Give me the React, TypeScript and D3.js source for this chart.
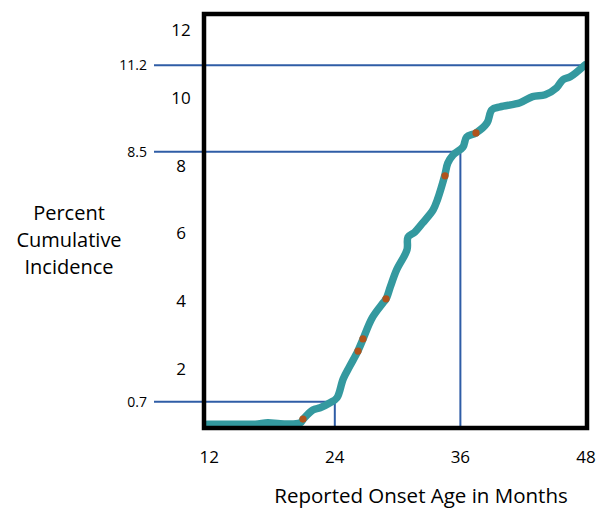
import * as d3 from "d3";

// cumulative incidence curve (month, percent)
const months = [11.8, 14.0, 16.4, 17.6, 18.8, 20.7, 21.0, 21.9, 22.6, 23.5, 24.2, 24.8, 25.45, 26.2, 26.7, 27.56, 28.6, 28.9, 29.3, 29.9, 30.9, 31.0, 31.66, 32.4, 33.4, 33.8, 34.5, 34.8, 35.3, 36.25, 36.6, 37.5, 38.55, 39.0, 39.8, 41.7, 42.9, 44.1, 45.2, 45.8, 46.5, 47.9];
const percents = [0, 0, 0, 0.04, 0.01, 0.04, 0.16, 0.44, 0.51, 0.66, 0.82, 1.41, 1.82, 2.28, 2.66, 3.31, 3.78, 3.91, 4.28, 4.81, 5.44, 5.84, 6.0, 6.28, 6.69, 7.0, 7.75, 8.15, 8.4, 8.65, 8.96, 9.09, 9.4, 9.81, 9.9, 10.03, 10.22, 10.28, 10.5, 10.75, 10.84, 11.21];

// highlighted points on the curve
const dotMonths = [20.96, 26.22, 26.69, 28.89, 34.53, 37.49];
const dotPercents = [0.16, 2.28, 2.66, 3.91, 7.75, 9.09];

// reference lines
const refValues = [0.7, 8.5, 11.2];
const refMonths = [24, 36, 48];
const refLabels = ["0.7", "8.5", "11.2"];

const xTicks = [12, 24, 36, 48];
const yTicks = [2, 4, 6, 8, 10, 12];

const W = 603;
const H = 511;

export default function App() {
  const x = d3.scaleLinear().domain([11.5, 48.1]).range([204, 587]);
  const y = d3.scaleLinear().domain([-0.12, 12.8]).range([428, 14]);
  // tick labels are spaced a bit wider than the data scale in the original
  const yLab = d3.scaleLinear().domain([2, 12]).range([369, 30]);

  const pts = months.map((m, i) => [m, percents[i]] as [number, number]);
  const line = d3
    .line<[number, number]>()
    .x((d) => x(d[0]))
    .y((d) => y(d[1]))
    .curve(d3.curveCatmullRom.alpha(0.5));

  const font = "'Open Sans', 'DejaVu Sans', sans-serif";
  const blue = "#2f5da6";
  const [x0, x1] = x.range();
  const [y0, y1] = y.range();

  return (
    <svg width={W} height={H} style={{ position: "absolute", left: 0, top: 0 }} fontFamily={font}>
      <rect width={W} height={H} fill="#fff" />

      {/* reference lines */}
      {refValues.map((v, i) => (
        <g key={"r" + i}>
          <line x1={154} x2={x(refMonths[i])} y1={y(v)} y2={y(v)} stroke={blue} strokeWidth={2} />
          {i < 2 && (
            <line x1={x(refMonths[i])} x2={x(refMonths[i])} y1={y(v)} y2={y0} stroke={blue} strokeWidth={2} />
          )}
          <text x={147} y={y(v)} dy="0.35em" textAnchor="end" fontSize={14} fill="#000">
            {refLabels[i]}
          </text>
        </g>
      ))}

      {/* curve */}
      <path d={line(pts) ?? ""} fill="none" stroke="#34999f" strokeWidth={7.5} strokeLinecap="round" strokeLinejoin="round" />
      {dotMonths.map((m, i) => (
        <circle key={"d" + i} cx={x(m)} cy={y(dotPercents[i])} r={3.6} fill="#b0531c" />
      ))}

      {/* frame */}
      <rect x={x0} y={y1} width={x1 - x0} height={y0 - y1} fill="none" stroke="#000" strokeWidth={4.5} />

      {/* y tick labels */}
      {yTicks.map((t) => (
        <text key={"y" + t} x={181} y={yLab(t)} dy="0.35em" textAnchor="middle" fontSize={17} fill="#000">
          {t}
        </text>
      ))}

      {/* x tick labels */}
      {xTicks.map((t) => (
        <text key={"x" + t} x={x(t)} y={457} dy="0.35em" textAnchor="middle" fontSize={17} fill="#000">
          {t}
        </text>
      ))}

      <text x={421} y={496} dy="0.35em" textAnchor="middle" fontSize={20.5} fill="#000">
        Reported Onset Age in Months
      </text>

      <text textAnchor="middle" fontSize={20} fill="#000">
        <tspan x={69} y={220}>Percent</tspan>
        <tspan x={69} y={247}>Cumulative</tspan>
        <tspan x={69} y={274}>Incidence</tspan>
      </text>
    </svg>
  );
}
